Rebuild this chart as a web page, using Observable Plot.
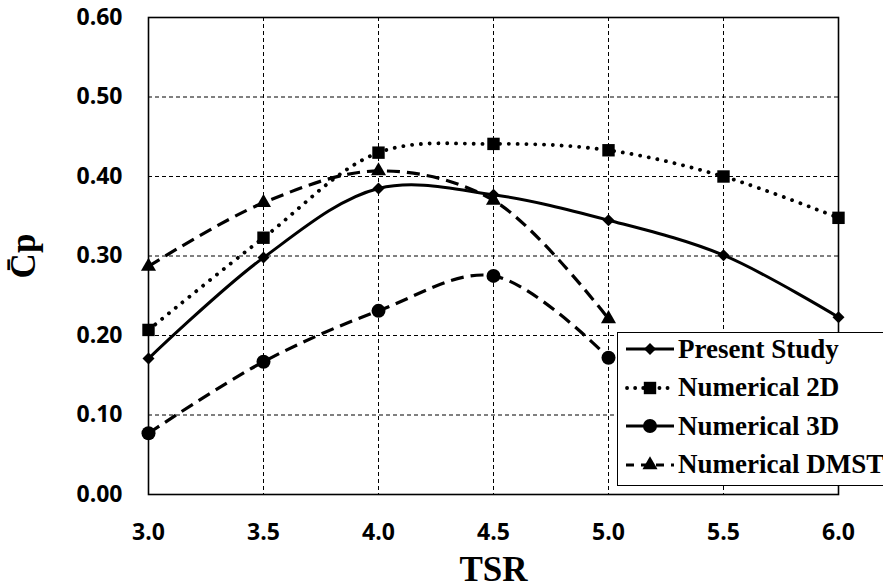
<!DOCTYPE html>
<html><head><meta charset="utf-8">
<script src="https://cdn.jsdelivr.net/npm/d3@7"></script>
<script src="https://cdn.jsdelivr.net/npm/@observablehq/plot@0.6"></script>
<style>
body{margin:0;background:#fff;}
#wrap{position:relative;width:883px;height:588px;overflow:hidden;background:#fff;}
#wrap svg{display:block;}
g[aria-label="x-axis tick label"] text, g[aria-label="y-axis tick label"] text{font-family:"Open Sans",sans-serif;font-weight:700;font-size:23px;fill:#000;}
g[aria-label="x-axis label"] text, g[aria-label="y-axis label"] text{font-family:"Liberation Serif","Times New Roman",serif;font-weight:700;font-size:35px;fill:#000;}
#legend{position:absolute;left:617px;top:332px;width:275px;height:154px;background:#fff;border:1.5px solid #000;box-sizing:border-box;}
#legend .row{position:absolute;left:0;height:38px;display:flex;align-items:center;}
#legend .row span{font-family:"Liberation Serif","Times New Roman",serif;font-weight:700;font-size:27px;color:#000;white-space:nowrap;margin-left:2px;}
</style></head><body><div id="wrap"></div>
<script>
const tsr = [3.0, 3.5, 4.0, 4.5, 5.0, 5.5, 6.0];
const presentStudy = [0.171, 0.298, 0.385, 0.377, 0.345, 0.301, 0.223];
const numerical2D = [0.207, 0.323, 0.430, 0.441, 0.433, 0.400, 0.348];
const tsrShort = [3.0, 3.5, 4.0, 4.5, 5.0];
const numerical3D = [0.077, 0.167, 0.231, 0.275, 0.172];
const numericalDMST = [0.287, 0.367, 0.407, 0.370, 0.221];
const xTicks = [3.0, 3.5, 4.0, 4.5, 5.0, 5.5, 6.0];
const yTicks = [0.0, 0.1, 0.2, 0.3, 0.4, 0.5, 0.6];
const seriesNames = ["Present Study", "Numerical 2D", "Numerical 3D", "Numerical DMST"];

const styles = {
  "Present Study": {dash: null, cap: "butt", symbol: "diamond2", r: 5.4, sw: 3},
  "Numerical 2D": {dash: "0.1,8.7", cap: "round", symbol: "square", r: 7.0, sw: 3.8},
  "Numerical 3D": {dash: "13,7", cap: "butt", symbol: "circle", r: 7.0, sw: 3.2},
  "Numerical DMST": {dash: "13,7", cap: "butt", symbol: "triangle", r: 5.6, sw: 3.2}
};

const table = (xs, ys, name) => xs.map((x, i) => ({x, y: ys[i], series: name}));
const data = {
  "Present Study": table(tsr, presentStudy, seriesNames[0]),
  "Numerical 2D": table(tsr, numerical2D, seriesNames[1]),
  "Numerical 3D": table(tsrShort, numerical3D, seriesNames[2]),
  "Numerical DMST": table(tsrShort, numericalDMST, seriesNames[3])
};

const marks = [
  Plot.gridX(xTicks, {stroke: "#000", strokeOpacity: 1, strokeWidth: 1, strokeDasharray: "4,3"}),
  Plot.gridY(yTicks, {stroke: "#000", strokeOpacity: 1, strokeWidth: 1, strokeDasharray: "4,3"}),
  Plot.axisX(xTicks, {tickSize: 0, tickPadding: 29, tickFormat: d => d.toFixed(1), label: "TSR", labelArrow: "none", labelAnchor: "center", labelOffset: 86}),
  Plot.axisY(yTicks, {tickSize: 0, tickPadding: 26, tickFormat: d => d.toFixed(2), label: "C\u0304p", labelArrow: "none", labelAnchor: "center", labelOffset: 138})
];
for (const name of seriesNames) {
  const s = styles[name];
  const lineOpts = {x: "x", y: "y", curve: "catmull-rom", stroke: "#000", strokeWidth: s.sw, strokeLinecap: s.cap};
  if (s.dash) lineOpts.strokeDasharray = s.dash;
  marks.push(Plot.line(data[name], lineOpts));
}
for (const name of seriesNames) {
  const s = styles[name];
  marks.push(Plot.dot(data[name], {x: "x", y: "y", symbol: () => s.symbol, r: s.r, fill: "#000", stroke: "none"}));
}
marks.push(Plot.frame({stroke: "#000", strokeWidth: 1.6}));

const chart = Plot.plot({
  width: 883, height: 588,
  marginLeft: 148, marginRight: 45, marginTop: 17, marginBottom: 94,
  x: {domain: [3.0, 6.0]},
  y: {domain: [0, 0.6]},
  symbol: {type: "identity"},
  style: {background: "#fff", color: "#000"},
  marks
});
const wrap = document.getElementById("wrap");
wrap.appendChild(chart);

// Legend (HTML overlay)
const legend = document.createElement("div");
legend.id = "legend";
seriesNames.forEach((name, i) => {
  const s = styles[name];
  const row = document.createElement("div");
  row.className = "row";
  row.style.top = (-3 + i * 38.5) + "px";
  const svg = d3.create("svg").attr("width", 52).attr("height", 38).style("margin-left", "6px");
  const ln = svg.append("line").attr("x1", 2).attr("x2", 50).attr("y1", 19).attr("y2", 19)
    .attr("stroke", "#000").attr("stroke-width", s.sw).attr("stroke-linecap", s.cap);
  if (name === "Numerical 2D") ln.attr("stroke-dasharray", "0.1,8").attr("x1", 3);
  if (name === "Numerical DMST") ln.attr("stroke-dasharray", "8,7").attr("x1", 2);
  const sym = {diamond2: d3.symbolDiamond2, square: d3.symbolSquare, circle: d3.symbolCircle, triangle: d3.symbolTriangle}[s.symbol];
  svg.append("path").attr("transform", "translate(26,19)")
    .attr("d", d3.symbol(sym, Math.PI * s.r * s.r)()).attr("fill", "#000");
  row.appendChild(svg.node());
  const sp = document.createElement("span");
  sp.textContent = name;
  row.appendChild(sp);
  legend.appendChild(row);
});
wrap.appendChild(legend);
</script>
</body></html>
